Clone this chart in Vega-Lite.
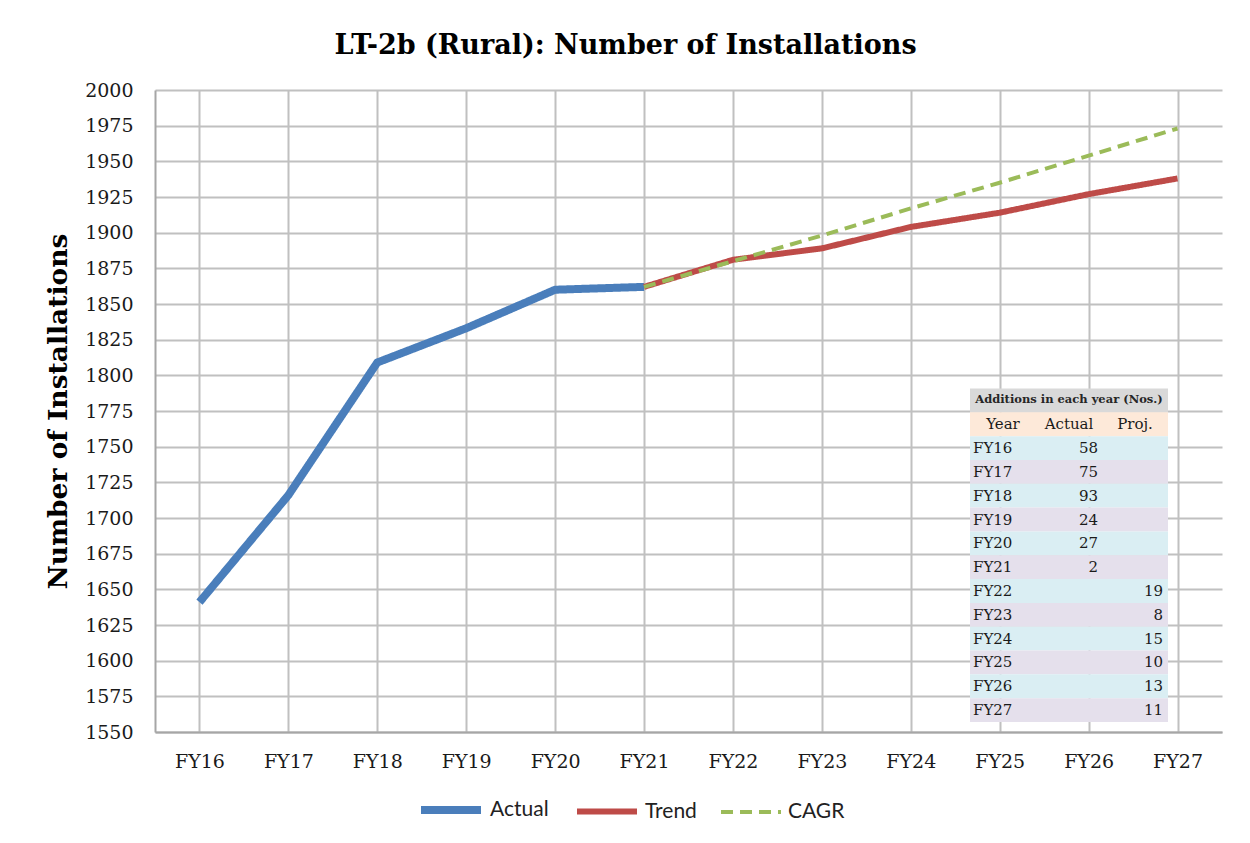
{
  "$schema": "https://vega.github.io/schema/vega-lite/v6.json",
  "width": 1067,
  "height": 642,
  "autosize": "none",
  "padding": {"left": 155, "top": 90, "right": 28, "bottom": 111},
  "background": "white",
  "title": {
    "text": "LT-2b (Rural): Number of Installations",
    "font": "DejaVu Serif",
    "fontSize": 27,
    "fontWeight": "bold",
    "color": "#000000",
    "anchor": "middle",
    "dx": -63,
    "offset": 21
  },
  "datasets": {
    "series": [
      {"year": "FY16", "series": "Actual", "value": 1641},
      {"year": "FY17", "series": "Actual", "value": 1716},
      {"year": "FY18", "series": "Actual", "value": 1809},
      {"year": "FY19", "series": "Actual", "value": 1833},
      {"year": "FY20", "series": "Actual", "value": 1860},
      {"year": "FY21", "series": "Actual", "value": 1862},
      {"year": "FY21", "series": "Trend", "value": 1862},
      {"year": "FY22", "series": "Trend", "value": 1881},
      {"year": "FY23", "series": "Trend", "value": 1889},
      {"year": "FY24", "series": "Trend", "value": 1904},
      {"year": "FY25", "series": "Trend", "value": 1914},
      {"year": "FY26", "series": "Trend", "value": 1927},
      {"year": "FY27", "series": "Trend", "value": 1938},
      {"year": "FY21", "series": "CAGR", "value": 1862},
      {"year": "FY22", "series": "CAGR", "value": 1880},
      {"year": "FY23", "series": "CAGR", "value": 1898},
      {"year": "FY24", "series": "CAGR", "value": 1917},
      {"year": "FY25", "series": "CAGR", "value": 1935},
      {"year": "FY26", "series": "CAGR", "value": 1954},
      {"year": "FY27", "series": "CAGR", "value": 1973}
    ],
    "table": [
      {"row": "h1", "yr": "", "act": "", "proj": ""},
      {"row": "h2", "yr": "Year", "act": "Actual", "proj": "Proj."},
      {"row": "FY16", "yr": "FY16", "act": "58", "proj": ""},
      {"row": "FY17", "yr": "FY17", "act": "75", "proj": ""},
      {"row": "FY18", "yr": "FY18", "act": "93", "proj": ""},
      {"row": "FY19", "yr": "FY19", "act": "24", "proj": ""},
      {"row": "FY20", "yr": "FY20", "act": "27", "proj": ""},
      {"row": "FY21", "yr": "FY21", "act": "2", "proj": ""},
      {"row": "FY22", "yr": "FY22", "act": "", "proj": "19"},
      {"row": "FY23", "yr": "FY23", "act": "", "proj": "8"},
      {"row": "FY24", "yr": "FY24", "act": "", "proj": "15"},
      {"row": "FY25", "yr": "FY25", "act": "", "proj": "10"},
      {"row": "FY26", "yr": "FY26", "act": "", "proj": "13"},
      {"row": "FY27", "yr": "FY27", "act": "", "proj": "11"}
    ]
  },
  "config": {
    "view": {"stroke": null},
    "font": "DejaVu Serif",
    "legend": {
      "title": null,
      "orient": "none",
      "direction": "horizontal",
      "legendX": 262,
      "legendY": 686,
      "symbolType": "stroke",
      "symbolSize": 3600,
      "labelFont": "Lato",
      "labelFontSize": 21,
      "labelColor": "#222222",
      "labelOffset": 5,
      "columnPadding": 16
    }
  },
  "layer": [
    {
      "data": {"name": "series"},
      "encoding": {
        "x": {
          "field": "year",
          "type": "ordinal",
          "sort": null,
          "scale": {"type": "point", "padding": 0.5, "domain": ["FY16","FY17","FY18","FY19","FY20","FY21","FY22","FY23","FY24","FY25","FY26","FY27"]},
          "axis": {
            "title": null,
            "grid": true,
            "gridColor": "#c0c0c0",
            "gridWidth": 2,
            "ticks": false,
            "domain": true,
            "domainColor": "#a6a6a6",
            "domainWidth": 2,
            "labelFont": "DejaVu Serif",
            "labelFontSize": 19,
            "labelColor": "#1a1a1a",
            "labelPadding": 20,
            "labelAngle": 0
          }
        },
        "y": {
          "field": "value",
          "type": "quantitative",
          "scale": {"domain": [1550, 2000], "nice": false, "zero": false},
          "axis": {
            "title": "Number of Installations",
            "titleFont": "DejaVu Serif",
            "titleFontSize": 26.5,
            "titleFontWeight": "bold",
            "titleColor": "#000000",
            "titlePadding": 12,
            "format": "d",
            "values": [1550,1575,1600,1625,1650,1675,1700,1725,1750,1775,1800,1825,1850,1875,1900,1925,1950,1975,2000],
            "grid": true,
            "gridColor": "#c0c0c0",
            "gridWidth": 2,
            "ticks": false,
            "domain": true,
            "domainColor": "#a6a6a6",
            "domainWidth": 2,
            "labelFont": "DejaVu Serif",
            "labelFontSize": 19,
            "labelColor": "#1a1a1a",
            "labelPadding": 22
          }
        },
        "color": {
          "field": "series",
          "type": "nominal",
          "scale": {"domain": ["Actual", "Trend", "CAGR"], "range": ["#4a7ebb", "#be4b48", "#9bbb59"]}
        },
        "strokeWidth": {
          "field": "series",
          "type": "nominal",
          "scale": {"domain": ["Actual", "Trend", "CAGR"], "range": [8, 4, 5]}
        },
        "strokeDash": {
          "field": "series",
          "type": "nominal",
          "scale": {"domain": ["Actual", "Trend", "CAGR"], "range": [[1, 0], [1, 0], [12, 7]]}
        }
      },
      "layer": [
        {"transform": [{"filter": "datum.series === 'Actual'"}], "mark": {"type": "line", "strokeJoin": "round"}},
        {"transform": [{"filter": "datum.series === 'Trend'"}], "mark": {"type": "line", "strokeJoin": "round"}},
        {"transform": [{"filter": "datum.series === 'CAGR'"}], "mark": {"type": "line", "strokeJoin": "round"}}
      ]
    },
    {
      "data": {"name": "table"},
      "layer": [
        {
          "transform": [{"fold": ["yr", "act", "proj"], "as": ["col", "val"]}],
          "mark": {"type": "rect"},
          "encoding": {
            "x": {"field": "col", "type": "nominal", "sort": null, "scale": {"type": "band", "domain": ["yr", "act", "proj"], "range": [815, 1013], "paddingInner": 0, "paddingOuter": 0}, "axis": null},
            "y": {"field": "row", "type": "nominal", "sort": null, "scale": {"type": "band", "domain": ["h1","h2","FY16","FY17","FY18","FY19","FY20","FY21","FY22","FY23","FY24","FY25","FY26","FY27"], "range": [298.5, 632], "paddingInner": 0, "paddingOuter": 0}, "axis": null},
            "fill": {"field": "row", "type": "nominal", "legend": null, "scale": {"domain": ["h1","h2","FY16","FY17","FY18","FY19","FY20","FY21","FY22","FY23","FY24","FY25","FY26","FY27"], "range": ["#d9d9d9","#fde9d9","#daeef3","#e5e0ec","#daeef3","#e5e0ec","#daeef3","#e5e0ec","#daeef3","#e5e0ec","#daeef3","#e5e0ec","#daeef3","#e5e0ec"]}}
          }
        },
        {
          "transform": [{"filter": "datum.row === 'h1'"}, {"calculate": "'Additions in each year (Nos.)'", "as": "label"}],
          "mark": {"type": "text", "font": "DejaVu Serif", "fontSize": 11.5, "fontWeight": "bold", "color": "#262626", "align": "center", "baseline": "middle"},
          "encoding": {
            "x": {"datum": "act", "type": "nominal"},
            "y": {"field": "row", "type": "nominal"},
            "text": {"field": "label"}
          }
        },
        {
          "transform": [{"filter": "datum.row === 'h2'"}, {"fold": ["yr", "act", "proj"], "as": ["col", "val"]}],
          "mark": {"type": "text", "font": "DejaVu Serif", "fontSize": 15, "color": "#1a1a1a", "align": "center", "baseline": "middle"},
          "encoding": {
            "x": {"field": "col", "type": "nominal"},
            "y": {"field": "row", "type": "nominal"},
            "text": {"field": "val"}
          }
        },
        {
          "transform": [{"filter": "datum.row !== 'h1' && datum.row !== 'h2'"}],
          "mark": {"type": "text", "font": "DejaVu Serif", "fontSize": 15, "color": "#1a1a1a", "align": "left", "baseline": "middle", "dx": 3},
          "encoding": {
            "x": {"datum": "yr", "type": "nominal", "bandPosition": 0},
            "y": {"field": "row", "type": "nominal"},
            "text": {"field": "yr"}
          }
        },
        {
          "transform": [{"filter": "datum.row !== 'h1' && datum.row !== 'h2'"}],
          "mark": {"type": "text", "font": "DejaVu Serif", "fontSize": 15, "color": "#1a1a1a", "align": "right", "baseline": "middle", "dx": -4},
          "encoding": {
            "x": {"datum": "act", "type": "nominal", "bandPosition": 1},
            "y": {"field": "row", "type": "nominal"},
            "text": {"field": "act"}
          }
        },
        {
          "transform": [{"filter": "datum.row !== 'h1' && datum.row !== 'h2'"}],
          "mark": {"type": "text", "font": "DejaVu Serif", "fontSize": 15, "color": "#1a1a1a", "align": "right", "baseline": "middle", "dx": -5},
          "encoding": {
            "x": {"datum": "proj", "type": "nominal", "bandPosition": 1},
            "y": {"field": "row", "type": "nominal"},
            "text": {"field": "proj"}
          }
        }
      ]
    }
  ],
  "resolve": {"scale": {"x": "independent", "y": "independent"}}
}
